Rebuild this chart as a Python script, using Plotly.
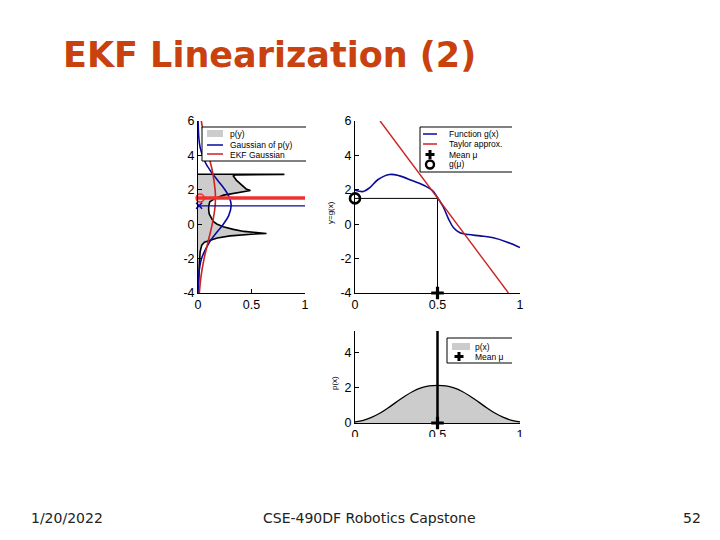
import plotly.graph_objects as go

W, H = 720, 540

# ---------------- data ----------------
# bottom panel: prior density p(x)
px_x = [0, 0.05, 0.1, 0.15, 0.2, 0.25, 0.3, 0.35, 0.4, 0.45, 0.5,
        0.55, 0.6, 0.65, 0.7, 0.75, 0.8, 0.85, 0.9, 0.95, 1.0]
px_p = [0.06, 0.15, 0.32, 0.55, 0.85, 1.18, 1.5, 1.78, 1.98, 2.1, 2.13,
        2.1, 1.98, 1.78, 1.5, 1.18, 0.85, 0.55, 0.32, 0.15, 0.06]
mu_x = 0.5

# top-right panel: non-linear function g(x) and its Taylor approximation
g_x = [0, 0.05, 0.09, 0.14, 0.21, 0.27, 0.35, 0.43, 0.47, 0.5, 0.535,
       0.566, 0.596, 0.636, 0.687, 0.758, 0.838, 0.919, 1.0]
g_y = [1.98, 1.9, 2.13, 2.6, 2.89, 2.81, 2.52, 2.2, 1.95, 1.55, 1.0,
       0.33, -0.19, -0.5, -0.6, -0.68, -0.79, -1.03, -1.36]
taylor_x = [0.152, 0.93]
taylor_y = [6.0, -4.0]
g_mu = 1.5

# top-left panel: transformed density p(y), its Gaussian, EKF Gaussian
dens_y = [-4, -3, -2.4, -1.6, -1.22, -1.05, -0.93, -0.8, -0.68, -0.63,
          -0.58, -0.54, -0.5, -0.42, -0.3, -0.15, 0.0, 0.15, 0.33, 0.6,
          0.81, 1.05, 1.3, 1.5, 1.69, 1.8, 1.9, 1.96, 2.05, 2.3, 2.55,
          2.8, 2.87, 2.89, 2.9, 2.9]
dens_p = [0.003, 0.006, 0.012, 0.02, 0.035, 0.06, 0.11, 0.18, 0.3, 0.38,
          0.5, 0.64, 0.54, 0.43, 0.33, 0.236, 0.18, 0.145, 0.128, 0.105,
          0.1, 0.1, 0.11, 0.16, 0.24, 0.33, 0.43, 0.49, 0.45, 0.4, 0.36,
          0.33, 0.35, 0.8, 0.8, 0.0]

gauss_y = [-4, -3, -2, -1, -0.5, 0, 0.5, 1.07, 1.5, 2, 2.5, 3, 3.5, 4, 4.5, 5, 6]
gauss_p = [0.001, 0.006, 0.033, 0.112, 0.172, 0.237, 0.287, 0.31, 0.297,
           0.252, 0.19, 0.128, 0.076, 0.042, 0.019, 0.008, 0.001]
gauss_mean = 1.07

ekf_y = [-4, -3, -2, -1, 0, 1, 1.52, 2, 3, 4, 5, 6]
ekf_p = [0.0125, 0.029, 0.057, 0.095, 0.133, 0.159, 0.163, 0.16, 0.137,
         0.099, 0.06, 0.031]
ekf_mean = 1.52

x_ticks = [0, 0.5, 1]
x_ticktext = ["0", "0.5", "1"]
y_ticks = [-4, -2, 0, 2, 4, 6]
y_ticktext = ["-4", "-2", "0", "2", "4", "6"]
yb_ticks = [0, 2, 4]
yb_ticktext = ["0", "2", "4"]

# ---------------- colours ----------------
BLUE = "#0a0a9a"
RED = "#cc2222"
BRIGHT_RED = "#f03030"
GRAY = "#cccccc"

fig = go.Figure()

# ---- top-left panel ----
fig.add_trace(go.Scatter(x=dens_p, y=dens_y, mode="lines", fill="tozerox",
                         fillcolor=GRAY, line=dict(color="black", width=1.6),
                         xaxis="x", yaxis="y", showlegend=False))
fig.add_trace(go.Scatter(x=gauss_p, y=gauss_y, mode="lines", line_shape="spline",
                         line=dict(color=BLUE, width=1.6),
                         xaxis="x", yaxis="y", showlegend=False))
fig.add_trace(go.Scatter(x=ekf_p, y=ekf_y, mode="lines", line_shape="spline",
                         line=dict(color=RED, width=1.6),
                         xaxis="x", yaxis="y", showlegend=False))
fig.add_trace(go.Scatter(x=[0, 1], y=[gauss_mean, gauss_mean], mode="lines",
                         line=dict(color=BLUE, width=1.2),
                         xaxis="x", yaxis="y", showlegend=False))
fig.add_trace(go.Scatter(x=[0, 1], y=[ekf_mean, ekf_mean], mode="lines",
                         line=dict(color=BRIGHT_RED, width=3.5),
                         xaxis="x", yaxis="y", showlegend=False))
fig.add_trace(go.Scatter(x=[0.02], y=[ekf_mean], mode="markers", cliponaxis=False,
                         marker=dict(symbol="circle-open", size=8, color=BRIGHT_RED,
                                     line=dict(width=1.6, color=BRIGHT_RED)),
                         xaxis="x", yaxis="y", showlegend=False))
fig.add_trace(go.Scatter(x=[0.01], y=[gauss_mean], mode="markers", cliponaxis=False,
                         marker=dict(symbol="x-thin-open", size=6, color=BLUE,
                                     line=dict(width=1.6, color=BLUE)),
                         xaxis="x", yaxis="y", showlegend=False))

# ---- top-right panel ----
fig.add_trace(go.Scatter(x=[0, mu_x, mu_x], y=[g_mu, g_mu, -4], mode="lines",
                         line=dict(color="black", width=1),
                         xaxis="x2", yaxis="y2", showlegend=False))
fig.add_trace(go.Scatter(x=g_x, y=g_y, mode="lines", line_shape="spline",
                         line=dict(color=BLUE, width=1.6),
                         xaxis="x2", yaxis="y2", showlegend=False))
fig.add_trace(go.Scatter(x=taylor_x, y=taylor_y, mode="lines",
                         line=dict(color=RED, width=1.4),
                         xaxis="x2", yaxis="y2", showlegend=False))
fig.add_trace(go.Scatter(x=[0], y=[g_mu], mode="markers", cliponaxis=False,
                         marker=dict(symbol="circle-open", size=10, color="black",
                                     line=dict(width=2.6, color="black")),
                         xaxis="x2", yaxis="y2", showlegend=False))
fig.add_trace(go.Scatter(x=[mu_x], y=[-4], mode="markers", cliponaxis=False,
                         marker=dict(symbol="cross-thin-open", size=9, color="black",
                                     line=dict(width=3.2, color="black")),
                         xaxis="x2", yaxis="y2", showlegend=False))

# ---- bottom panel ----
fig.add_trace(go.Scatter(x=px_x, y=px_p, mode="lines", line_shape="spline",
                         fill="tozeroy", fillcolor=GRAY,
                         line=dict(color="black", width=1.3),
                         xaxis="x3", yaxis="y3", showlegend=False))
fig.add_trace(go.Scatter(x=[mu_x, mu_x], y=[0, 5.2], mode="lines",
                         line=dict(color="black", width=2.5),
                         xaxis="x3", yaxis="y3", showlegend=False))
fig.add_trace(go.Scatter(x=[mu_x], y=[0], mode="markers", cliponaxis=False,
                         marker=dict(symbol="cross-thin-open", size=9, color="black",
                                     line=dict(width=3.2, color="black")),
                         xaxis="x3", yaxis="y3", showlegend=False))


def pxx(x):
    return x / W


def pxy(y):
    return 1 - y / H


TICKFONT = dict(family="Liberation Sans, Arial", size=12.5, color="black")


def axis(domain, rng, tv, tt, anchor):
    return dict(domain=domain, range=rng, tickvals=tv, ticktext=tt, anchor=anchor,
                ticks="inside", ticklen=4, tickwidth=1, tickcolor="black",
                showline=True, linecolor="black", linewidth=1, automargin=False,
                showgrid=False, zeroline=False, tickfont=TICKFONT, fixedrange=True)


dom_y_top = [pxy(293), pxy(121)]
dom_x_left = [pxx(198), pxx(305)]
dom_x_right = [pxx(355), pxx(520)]
dom_y_bot = [pxy(423), pxy(331)]

shapes = []
annotations = []


def line_px(x0, y0, x1, y1, color="black", width=1):
    shapes.append(dict(type="line", xref="paper", yref="paper",
                       x0=pxx(x0), y0=pxy(y0), x1=pxx(x1), y1=pxy(y1),
                       line=dict(color=color, width=width), layer="above"))


def rect_px(x0, y0, x1, y1, fill):
    shapes.append(dict(type="rect", xref="paper", yref="paper",
                       x0=pxx(x0), y0=pxy(y0), x1=pxx(x1), y1=pxy(y1),
                       fillcolor=fill, line=dict(width=0), layer="above"))


def legend_box(x0, y0, x1, y1):
    rect_px(x0, y0, x1, y1, "white")
    line_px(x0, y0, x1, y0)
    line_px(x0, y1, x1, y1)
    line_px(x0, y0, x0, y1)


def text_px(x, y, s, size=8, anchor="left", color="black", family="Liberation Sans, Arial", angle=0):
    annotations.append(dict(xref="paper", yref="paper", x=pxx(x), y=pxy(y), text=s,
                            showarrow=False, xanchor=anchor, yanchor="middle",
                            textangle=angle,
                            font=dict(size=size, color=color, family=family)))


def cross_px(x, y, r=4.5, w=3):
    line_px(x - r, y, x + r, y, width=w)
    line_px(x, y - r, x, y + r, width=w)


def circle_px(x, y, r=4, w=2.4):
    shapes.append(dict(type="circle", xref="paper", yref="paper",
                       x0=pxx(x - r), y0=pxy(y - r), x1=pxx(x + r), y1=pxy(y + r),
                       line=dict(color="black", width=w), fillcolor="white", layer="above"))


# clip the bottom tick labels like the cropped slide picture
rect_px(330, 437, 540, 470, "white")

# legend top-left
legend_box(202, 127, 306, 161)
rect_px(207, 130, 223, 137, GRAY)
line_px(207, 145, 223, 145, color=BLUE, width=1.5)
line_px(207, 154, 223, 154, color=RED, width=1.5)
text_px(228, 133.5, "p(y)", size=8.5)
text_px(228, 145, "Gaussian of p(y)", size=8.5)
text_px(228, 154.5, "EKF Gaussian", size=8.5)

# legend top-right
legend_box(420, 127, 512, 172)
line_px(423, 134, 437, 134, color=BLUE, width=1.5)
line_px(423, 144, 437, 144, color=RED, width=1.5)
cross_px(430, 154.5)
circle_px(430, 164.5)
text_px(447, 134, "Function g(x)", size=8.5)
text_px(447, 144, "Taylor approx.", size=8.5)
text_px(447, 154.5, "Mean μ", size=8.5)
text_px(447, 164.5, "g(μ)", size=8.5)

# legend bottom
legend_box(447, 338, 512, 363)
rect_px(452, 343, 470, 350, GRAY)
cross_px(459, 356.5)
text_px(473, 346.5, "p(x)", size=8.5)
text_px(473, 356.5, "Mean μ", size=8.5)

# axis titles
text_px(331, 213, "y=g(x)", size=8, anchor="center", angle=-90)
text_px(334, 383, "p(x)", size=8, anchor="center", angle=-90)

# slide title and footer
text_px(269, 55, "<b>EKF Linearization (2)</b>", size=35, anchor="center",
        color="#c8410f", family="DejaVu Sans, Verdana")
text_px(67, 518, "1/20/2022", size=14, anchor="center", color="#222222", family="DejaVu Sans")
text_px(370, 518, "CSE-490DF Robotics Capstone", size=14, anchor="center",
        color="#222222", family="DejaVu Sans")
text_px(692, 518, "52", size=14, anchor="center", color="#222222", family="DejaVu Sans")

fig.update_layout(
    template="none",
    width=W, height=H, margin=dict(l=0, r=0, t=0, b=0, pad=0, autoexpand=False),
    paper_bgcolor="white", plot_bgcolor="white",
    xaxis=axis(dom_x_left, [0, 1], x_ticks, x_ticktext, "y"),
    yaxis=axis(dom_y_top, [-4, 6], y_ticks, y_ticktext, "x"),
    xaxis2=axis(dom_x_right, [0, 1], x_ticks, x_ticktext, "y2"),
    yaxis2=axis(dom_y_top, [-4, 6], y_ticks, y_ticktext, "x2"),
    xaxis3=axis(dom_x_right, [0, 1], x_ticks, x_ticktext, "y3"),
    yaxis3=axis(dom_y_bot, [0, 5.2], yb_ticks, yb_ticktext, "x3"),
    shapes=shapes, annotations=annotations, showlegend=False,
)

fig.write_html("out.html")
